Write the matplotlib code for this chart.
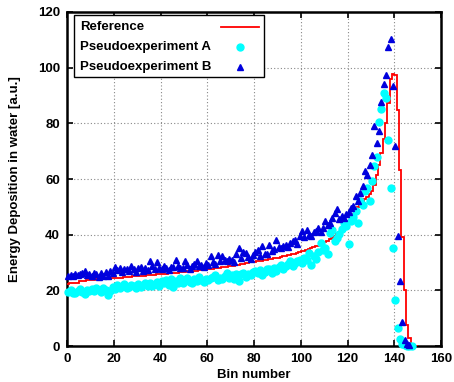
import numpy as np
import matplotlib
matplotlib.use("Agg")
import matplotlib.pyplot as plt
from matplotlib.patches import Rectangle

plt.rcParams['font.family'] = ['Liberation Sans', 'DejaVu Sans']
plt.rcParams['font.weight'] = 'bold'

# reference curve, one value per bin (bins 0..149)
reference = [
    22.4, 22.5, 22.5, 22.6, 22.6, 23.4, 23.5, 23.5, 23.6, 23.6,
    23.7, 23.8, 23.9, 23.9, 24.0, 24.0, 24.1, 24.2, 24.2, 24.3,
    24.4, 24.5, 24.5, 24.6, 24.7, 24.7, 24.8, 24.9, 25.0, 25.0,
    25.1, 25.2, 25.2, 25.3, 25.4, 25.5, 25.5, 25.6, 25.7, 25.8,
    25.9, 25.9, 26.0, 26.1, 26.2, 26.3, 26.3, 26.4, 26.5, 26.6,
    26.7, 26.8, 26.9, 27.0, 27.0, 27.1, 27.2, 27.3, 27.4, 27.5,
    27.6, 27.7, 27.8, 27.9, 28.0, 28.1, 28.3, 28.4, 28.5, 28.7,
    28.8, 28.9, 29.1, 29.2, 29.4, 29.6, 29.7, 29.9, 30.1, 30.2,
    30.3, 30.4, 30.6, 30.7, 30.9, 31.0, 31.2, 31.3, 31.5, 31.7,
    31.8, 32.0, 32.2, 32.4, 32.6, 32.8, 33.0, 33.2, 33.5, 33.7,
    34.0, 34.3, 34.6, 34.9, 35.2, 35.5, 35.8, 36.1, 36.5, 36.9,
    37.3, 37.8, 38.3, 38.9, 39.5, 40.2, 41.0, 41.8, 42.8, 43.8,
    45.0, 46.3, 47.6, 48.9, 50.0, 51.0, 52.0, 52.8, 53.6, 54.5,
    55.6, 58.0, 61.6, 65.2, 69.4, 74.2, 80.2, 87.4, 95.9, 97.7,
    97.5, 84.8, 63.4, 39.2, 20.2, 7.6, 2.9, 0.0, 0.0, 0.0,
]

# pseudoexperiment A (bins 0..147)
exp_a = [
    19.4, 20.2, 18.9, 19.0, 19.8, 20.6, 19.3, 18.6, 20.1, 19.7,
    20.4, 19.6, 21.0, 20.2, 19.5, 20.9, 20.3, 18.2, 19.8, 21.2,
    20.6, 21.8, 20.7, 21.5, 22.4, 20.9, 21.3, 22.0, 21.6, 20.8,
    22.3, 21.1, 21.9, 22.6, 21.4, 22.8, 21.7, 22.2, 23.0, 21.5,
    23.2, 22.5, 23.6, 22.1, 23.9, 21.1, 23.4, 22.8, 24.3, 22.7,
    23.7, 24.5, 23.1, 22.6, 24.0, 23.4, 24.8, 23.7, 22.9, 24.2,
    23.6, 24.5, 24.9, 25.6, 23.8, 24.4, 24.0, 25.2, 26.1, 24.6,
    25.4, 23.9, 26.0, 23.4, 25.7, 26.3, 24.9, 25.8, 25.6, 26.6,
    27.0, 26.2, 27.3, 25.5, 26.7, 27.8, 27.6, 26.4, 28.2, 27.1,
    28.5, 29.1, 27.7, 28.8, 29.6, 30.4, 28.9, 29.8, 30.6, 31.0,
    29.9, 31.5, 30.8, 33.4, 29.2, 32.3, 31.4, 33.8, 37.0, 34.6,
    35.2, 33.0, 40.6, 41.8, 37.6, 38.9, 40.1, 42.0, 44.2, 43.0,
    36.6, 45.0, 46.5, 48.4, 44.2, 52.0, 50.8, 55.6, 56.8, 52.0,
    59.2, 64.6, 67.9, 80.5, 85.0, 90.8, 89.0, 74.0, 56.8, 35.2,
    16.6, 6.4, 2.6, 0.7, 0.3, 0.1, 0.0, 0.0,
]

# pseudoexperiment B (bins 0..146)
exp_b = [
    25.3, 25.6, 25.2, 25.9, 25.5, 25.8, 26.4, 26.9, 25.4, 26.0,
    25.1, 26.3, 25.7, 24.9, 26.2, 25.3, 26.6, 25.0, 27.0, 26.4,
    28.5, 27.2, 28.1, 26.6, 27.6, 27.8, 26.9, 28.9, 27.5, 26.7,
    27.9, 28.3, 27.1, 28.0, 27.4, 30.7, 28.6, 27.6, 30.1, 28.2,
    27.5, 28.6, 28.0, 27.3, 28.4, 28.5, 31.0, 28.7, 27.9, 28.2,
    30.6, 29.0, 27.8, 28.6, 29.4, 30.7, 28.9, 29.1, 28.3, 29.8,
    29.2, 32.2, 30.1, 29.6, 32.8, 30.4, 32.2, 30.9, 30.4, 31.3,
    31.0, 30.1, 33.0, 35.2, 31.8, 33.8, 33.4, 32.0, 31.2, 32.8,
    33.6, 34.6, 32.4, 35.8, 33.1, 33.0, 36.4, 34.2, 35.0, 38.0,
    35.6, 35.2, 36.0, 36.4, 35.4, 37.0, 37.6, 38.2, 36.8, 39.4,
    41.2, 39.2, 41.8, 40.0, 39.6, 41.0, 41.2, 42.4, 40.8, 42.4,
    44.8, 43.4, 44.2, 46.0, 47.8, 49.2, 45.6, 46.8, 46.0, 47.5,
    48.0, 49.6, 50.2, 53.8, 52.0, 55.0, 57.4, 62.8, 61.6, 65.2,
    68.6, 79.0, 73.0, 77.2, 87.5, 94.0, 97.5, 107.6, 110.3, 93.4,
    71.8, 39.7, 23.2, 8.8, 2.2, 0.7, 0.3,
]

labels = ['Reference', 'Pseudoexperiment A', 'Pseudoexperiment B']
x_ticks = [0, 20, 40, 60, 80, 100, 120, 140, 160]
y_ticks = [0, 20, 40, 60, 80, 100, 120]

RED = 'red'
CYAN = 'cyan'
BLUE = '#0000dd'


def draw_key(ax):
    # gnuplot style key: labels left aligned, samples on the right
    tr = ax.transAxes
    ax.add_patch(Rectangle((0.0187, 0.805), 0.509, 0.186, transform=tr,
                           facecolor='white', edgecolor='black',
                           linewidth=1.0, zorder=10))
    rows = [0.956, 0.896, 0.836]
    for lab, yy in zip(labels, rows):
        ax.text(0.034, yy, lab, transform=tr, fontsize=9.5,
                fontweight='bold', va='center', ha='left', zorder=11)
    ax.plot([0.412, 0.513], [rows[0], rows[0]], color=RED, linewidth=1.3,
            transform=tr, zorder=11, clip_on=False)
    ax.plot([0.4626], [rows[1]], 'o', color=CYAN, markersize=5,
            transform=tr, zorder=11, clip_on=False)
    ax.plot([0.4626], [rows[2]], '^', color=BLUE, markersize=4.2,
            transform=tr, zorder=11, clip_on=False)


def main():
    fig = plt.figure(figsize=(4.54, 3.82), dpi=100)
    ax = fig.add_axes([0.1476, 0.0942, 0.8238, 0.8744])

    edges = np.arange(len(reference) + 1)
    ax.stairs(reference, edges, baseline=None, color=RED, linewidth=1.3,
              zorder=3)
    ax.plot(np.arange(len(exp_a)) + 0.5, exp_a, 'o', color=CYAN,
            markersize=5, clip_on=False, zorder=4)
    ax.plot(np.arange(len(exp_b)) + 0.5, exp_b, '^', color=BLUE,
            markersize=4.2, clip_on=False, zorder=5)

    ax.set_xlim(0, 160)
    ax.set_ylim(0, 120)
    ax.set_xticks(x_ticks)
    ax.set_yticks(y_ticks)
    ax.tick_params(direction='in', length=4, width=1.2, top=True, right=True,
                   labelsize=9.5, pad=5)
    for lab in ax.get_xticklabels() + ax.get_yticklabels():
        lab.set_fontweight('bold')
    for sp in ax.spines.values():
        sp.set_linewidth(1.8)
    ax.grid(True, linestyle=(0, (1, 2)), color='#888888', linewidth=0.8)

    ax.set_xlabel('Bin number', fontsize=9.5, fontweight='bold', labelpad=3)
    ax.set_ylabel('Energy Deposition in water [a.u.]', fontsize=9.5,
                  fontweight='bold', labelpad=12)

    draw_key(ax)

    fig.savefig('out.png', dpi=100)


if __name__ == '__main__':
    main()
